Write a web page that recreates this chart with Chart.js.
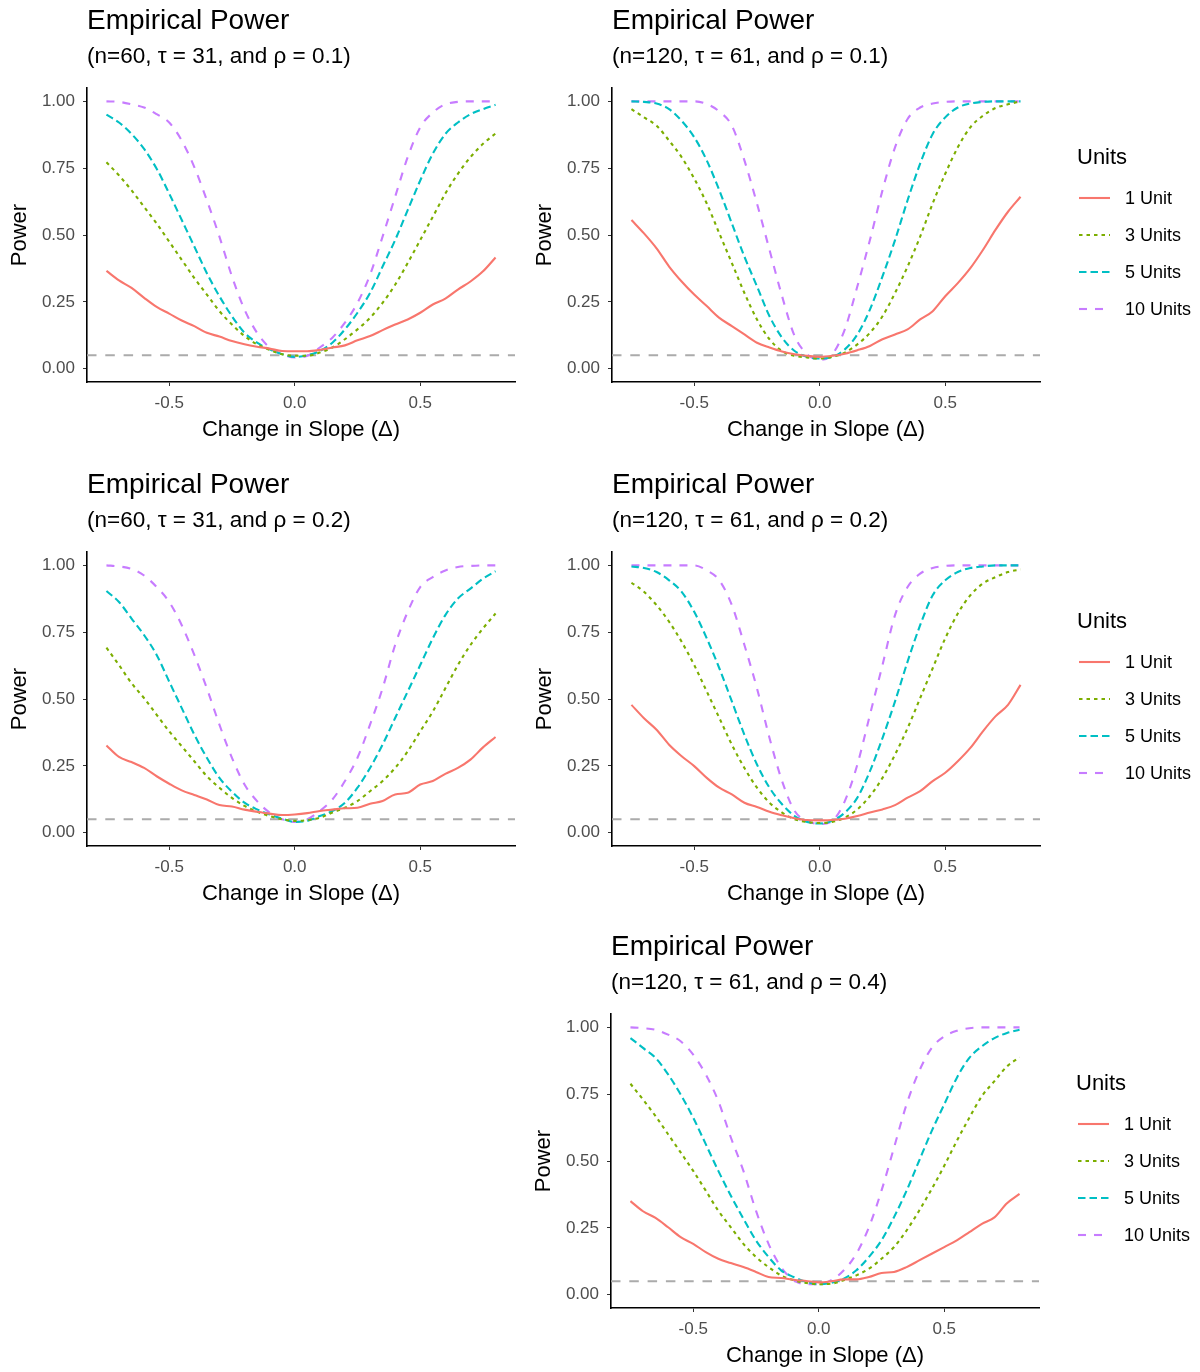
<!DOCTYPE html>
<html>
<head>
<meta charset="utf-8">
<script src="https://cdn.jsdelivr.net/npm/chart.js@4.4.0/dist/chart.umd.min.js"></script>
<style>
  body { margin: 0; background: #fff; }
  #wrap { position: relative; width: 1200px; height: 1372px; overflow: hidden; }
  canvas { position: absolute; }
</style>
</head>
<body>
<div id="wrap">
  <canvas id="p1" width="525" height="463" style="left:0;top:0"></canvas>
  <canvas id="p2" width="675" height="463" style="left:525px;top:0"></canvas>
  <canvas id="p3" width="525" height="463" style="left:0;top:464px"></canvas>
  <canvas id="p4" width="675" height="463" style="left:525px;top:464px"></canvas>
  <canvas id="p5" width="676" height="463" style="left:524px;top:926px"></canvas>
</div>
<script>
// change in slope (x) and the nominal level line
const delta = [-0.75, -0.70, -0.65, -0.60, -0.55, -0.50, -0.45, -0.40, -0.35, -0.30, -0.25, -0.20, -0.15, -0.10, -0.05, 0.00,
               0.05, 0.10, 0.15, 0.20, 0.25, 0.30, 0.35, 0.40, 0.45, 0.50, 0.55, 0.60, 0.65, 0.70, 0.75, 0.80];
const alphaLevel = 0.05;
const xTicks = [-0.5, 0, 0.5];
const yTicks = [0, 0.25, 0.5, 0.75, 1];

// n=60, tau=31, rho=0.1
const n60r1_u1  = [0.366,0.330,0.302,0.265,0.231,0.206,0.180,0.159,0.134,0.120,0.103,0.091,0.082,0.075,0.066,0.065,0.065,0.070,0.079,0.087,0.106,0.122,0.144,0.165,0.184,0.209,0.240,0.262,0.296,0.326,0.364,0.416];
const n60r1_u3  = [0.772,0.723,0.667,0.605,0.543,0.475,0.407,0.339,0.277,0.215,0.165,0.122,0.091,0.070,0.054,0.048,0.048,0.060,0.079,0.110,0.147,0.190,0.246,0.314,0.395,0.481,0.568,0.655,0.729,0.791,0.841,0.880];
const n60r1_u5  = [0.950,0.921,0.878,0.822,0.748,0.655,0.556,0.457,0.357,0.271,0.196,0.134,0.097,0.072,0.054,0.044,0.050,0.066,0.097,0.147,0.209,0.283,0.382,0.481,0.593,0.704,0.804,0.878,0.921,0.952,0.971,0.987];
const n60r1_u10 = [1.000,0.998,0.989,0.977,0.952,0.921,0.853,0.754,0.630,0.494,0.345,0.221,0.134,0.079,0.054,0.042,0.048,0.079,0.116,0.172,0.246,0.351,0.494,0.643,0.791,0.903,0.958,0.989,0.998,1.000,1.000,1.000];

// n=120, tau=61, rho=0.1
const n120r1_u1  = [0.556,0.506,0.450,0.382,0.326,0.277,0.234,0.190,0.159,0.128,0.097,0.079,0.064,0.054,0.048,0.044,0.048,0.056,0.069,0.085,0.110,0.128,0.147,0.184,0.215,0.271,0.320,0.376,0.444,0.519,0.587,0.643];
const n120r1_u3  = [0.971,0.940,0.909,0.853,0.791,0.711,0.618,0.506,0.395,0.283,0.184,0.110,0.066,0.048,0.042,0.038,0.044,0.060,0.091,0.134,0.196,0.283,0.382,0.494,0.618,0.729,0.828,0.903,0.946,0.975,0.989,1.000];
const n120r1_u5  = [1.000,0.998,0.992,0.971,0.927,0.866,0.779,0.667,0.543,0.419,0.308,0.196,0.116,0.066,0.044,0.038,0.044,0.072,0.128,0.221,0.345,0.481,0.630,0.767,0.878,0.940,0.977,0.992,0.998,1.000,1.000,1.000];
const n120r1_u10 = [1.000,1.000,1.000,1.000,1.000,1.000,0.990,0.962,0.909,0.779,0.618,0.444,0.271,0.122,0.054,0.033,0.054,0.147,0.308,0.481,0.667,0.828,0.934,0.977,0.992,0.998,1.000,1.000,1.000,1.000,1.000,1.000];

// n=60, tau=31, rho=0.2
const n60r2_u1  = [0.326,0.283,0.264,0.242,0.211,0.183,0.158,0.141,0.124,0.103,0.098,0.086,0.078,0.071,0.066,0.068,0.073,0.081,0.086,0.091,0.093,0.108,0.118,0.143,0.149,0.180,0.193,0.220,0.242,0.273,0.319,0.358];
const n60r2_u3  = [0.692,0.627,0.559,0.503,0.441,0.379,0.323,0.267,0.211,0.168,0.130,0.100,0.078,0.062,0.050,0.044,0.047,0.056,0.075,0.093,0.118,0.155,0.193,0.242,0.304,0.379,0.453,0.540,0.627,0.702,0.764,0.820];
const n60r2_u5  = [0.904,0.863,0.801,0.739,0.665,0.565,0.466,0.367,0.280,0.205,0.153,0.112,0.087,0.068,0.052,0.040,0.044,0.062,0.081,0.112,0.168,0.242,0.329,0.429,0.528,0.627,0.727,0.814,0.876,0.913,0.950,0.978];
const n60r2_u10 = [1.000,0.996,0.987,0.962,0.919,0.863,0.776,0.665,0.540,0.404,0.280,0.180,0.118,0.075,0.050,0.040,0.050,0.081,0.124,0.193,0.280,0.404,0.540,0.702,0.826,0.919,0.956,0.981,0.994,0.998,1.000,1.000];

// n=120, tau=61, rho=0.2
const n120r2_u1  = [0.478,0.428,0.385,0.329,0.286,0.249,0.205,0.168,0.143,0.112,0.096,0.078,0.065,0.054,0.047,0.046,0.047,0.052,0.062,0.075,0.087,0.103,0.131,0.155,0.193,0.224,0.267,0.317,0.379,0.435,0.478,0.553];
const n120r2_u3  = [0.935,0.901,0.851,0.789,0.714,0.627,0.528,0.429,0.329,0.242,0.168,0.112,0.075,0.050,0.040,0.036,0.040,0.056,0.087,0.137,0.205,0.292,0.391,0.503,0.615,0.727,0.820,0.888,0.932,0.956,0.975,0.985];
const n120r2_u5  = [0.996,0.990,0.975,0.944,0.901,0.826,0.727,0.615,0.491,0.366,0.255,0.168,0.106,0.062,0.040,0.034,0.044,0.075,0.131,0.230,0.354,0.491,0.640,0.776,0.888,0.944,0.975,0.990,0.996,1.000,1.000,1.000];
const n120r2_u10 = [1.000,1.000,1.000,1.000,1.000,1.000,0.981,0.944,0.851,0.702,0.540,0.354,0.193,0.081,0.044,0.032,0.044,0.118,0.255,0.441,0.627,0.814,0.919,0.969,0.990,0.998,1.000,1.000,1.000,1.000,1.000,1.000];

// n=120, tau=61, rho=0.4
const n120r4_u1  = [0.350,0.312,0.287,0.252,0.215,0.190,0.159,0.134,0.118,0.103,0.085,0.066,0.062,0.056,0.051,0.046,0.050,0.057,0.057,0.066,0.081,0.085,0.103,0.128,0.153,0.178,0.203,0.234,0.265,0.289,0.342,0.377];
const n120r4_u3  = [0.789,0.730,0.668,0.600,0.532,0.463,0.389,0.314,0.252,0.190,0.141,0.103,0.072,0.054,0.044,0.039,0.041,0.054,0.072,0.097,0.134,0.178,0.240,0.314,0.395,0.482,0.575,0.662,0.743,0.799,0.854,0.888];
const n120r4_u5  = [0.960,0.923,0.886,0.824,0.749,0.662,0.563,0.463,0.370,0.284,0.203,0.141,0.091,0.066,0.048,0.039,0.044,0.060,0.091,0.141,0.203,0.290,0.389,0.501,0.612,0.712,0.811,0.886,0.929,0.960,0.979,0.991];
const n120r4_u10 = [1.000,0.997,0.991,0.973,0.948,0.898,0.824,0.724,0.588,0.463,0.314,0.190,0.103,0.054,0.039,0.039,0.054,0.091,0.153,0.252,0.389,0.550,0.712,0.836,0.923,0.966,0.987,0.997,1.000,1.000,1.000,1.000];

const unitLabels = ['1 Unit', '3 Units', '5 Units', '10 Units'];
const unitColors = ['#F8766D', '#7CAE00', '#00BFC4', '#C77CFF'];
const unitDashes = [[], [3.5, 4], [7.5, 4], [8, 8]];

const FONT = '"Liberation Sans", Arial, Helvetica, sans-serif';
Chart.defaults.font.family = FONT;
Chart.defaults.color = '#000';

// titles, 0.05 reference line and the "Units" legend
const panelDecor = {
  id: 'panelDecor',
  beforeDatasetsDraw(chart) {
    const {ctx, chartArea} = chart;
    const y = chart.scales.y.getPixelForValue(alphaLevel);
    ctx.save();
    ctx.strokeStyle = '#ABABAB';
    ctx.lineWidth = 2.2;
    ctx.setLineDash([9.5, 8.8]);
    ctx.beginPath();
    ctx.moveTo(chartArea.left, y);
    ctx.lineTo(chartArea.right, y);
    ctx.stroke();
    ctx.restore();
  },
  afterDraw(chart, args, opts) {
    const {ctx, chartArea} = chart;
    ctx.save();
    ctx.fillStyle = '#000';
    ctx.textAlign = 'left';
    ctx.textBaseline = 'middle';
    ctx.font = '28px ' + FONT;
    ctx.fillText(opts.title, chartArea.left, 21);
    ctx.font = '22.5px ' + FONT;
    ctx.fillText(opts.subtitle, chartArea.left, 57);
    if (opts.legend) {
      const cy = (chartArea.top + chartArea.bottom) / 2;
      const x0 = chartArea.right;
      ctx.font = '22px ' + FONT;
      ctx.fillText('Units', x0 + 37, cy - 77);
      ctx.font = '18px ' + FONT;
      chart.data.datasets.forEach((ds, i) => {
        const yy = cy - 37 + 37 * i;
        ctx.strokeStyle = ds.borderColor;
        ctx.lineWidth = ds.borderWidth;
        ctx.setLineDash(ds.borderDash);
        ctx.beginPath();
        ctx.moveTo(x0 + 39, yy);
        ctx.lineTo(x0 + 70, yy);
        ctx.stroke();
        ctx.fillStyle = '#000';
        ctx.fillText(ds.label, x0 + 85, yy + 1);
      });
    }
    ctx.restore();
  }
};

function makePanel(id, subtitle, series, legend) {
  const datasets = series.map((vals, i) => ({
    label: unitLabels[i],
    data: delta.map((d, j) => ({x: d, y: vals[j]})),
    borderColor: unitColors[i],
    borderDash: unitDashes[i],
    borderWidth: 2.1,
    pointRadius: 0,
    fill: false,
    cubicInterpolationMode: 'monotone'
  }));
  const canvas = document.getElementById(id);
  return new Chart(canvas, {
    type: 'line',
    data: {datasets: datasets},
    options: {
      responsive: false,
      animation: false,
      layout: {padding: {top: 88, left: 0, right: canvas.width - 87 - 428, bottom: 0}},
      plugins: {
        legend: {display: false},
        tooltip: {enabled: false},
        panelDecor: {title: 'Empirical Power', subtitle: subtitle, legend: legend}
      },
      scales: {
        x: {
          type: 'linear',
          min: -0.8275,
          max: 0.8775,
          afterBuildTicks: (s) => { s.ticks = xTicks.map(v => ({value: v})); },
          afterFit: (s) => { s.height = 81; },
          ticks: {color: '#4D4D4D', font: {size: 17}, padding: 7, callback: v => v.toFixed(1), maxRotation: 0},
          grid: {drawOnChartArea: false, drawTicks: true, tickLength: 4, color: '#333333'},
          border: {display: true, color: '#000', width: 1.6},
          title: {display: true, text: 'Change in Slope (Δ)', font: {size: 22}, color: '#000', padding: {top: 0, bottom: 20}}
        },
        y: {
          type: 'linear',
          min: -0.05,
          max: 1.05,
          afterBuildTicks: (s) => { s.ticks = yTicks.map(v => ({value: v})); },
          afterFit: (s) => { s.width = 87; },
          ticks: {color: '#4D4D4D', font: {size: 17}, padding: 8, callback: v => v.toFixed(2)},
          grid: {drawOnChartArea: false, drawTicks: true, tickLength: 4, color: '#333333'},
          border: {display: true, color: '#000', width: 1.6},
          title: {display: true, text: 'Power', font: {size: 22}, color: '#000', padding: {top: 7, bottom: 0}}
        }
      }
    },
    plugins: [panelDecor]
  });
}

makePanel('p1', '(n=60, τ = 31, and ρ = 0.1)', [n60r1_u1, n60r1_u3, n60r1_u5, n60r1_u10], false);
makePanel('p2', '(n=120, τ = 61, and ρ = 0.1)', [n120r1_u1, n120r1_u3, n120r1_u5, n120r1_u10], true);
makePanel('p3', '(n=60, τ = 31, and ρ = 0.2)', [n60r2_u1, n60r2_u3, n60r2_u5, n60r2_u10], false);
makePanel('p4', '(n=120, τ = 61, and ρ = 0.2)', [n120r2_u1, n120r2_u3, n120r2_u5, n120r2_u10], true);
makePanel('p5', '(n=120, τ = 61, and ρ = 0.4)', [n120r4_u1, n120r4_u3, n120r4_u5, n120r4_u10], true);
</script>
</body>
</html>
